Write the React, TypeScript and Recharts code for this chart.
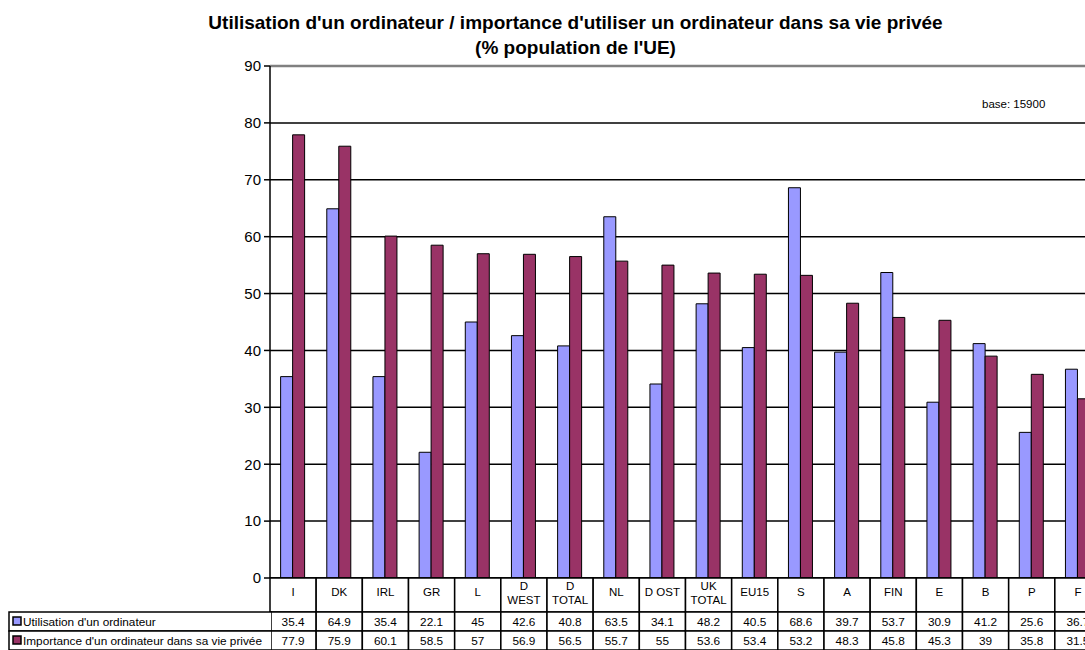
import { Bar, BarChart, CartesianGrid, ReferenceLine, XAxis, YAxis } from "recharts"

const categories = [
  "I", "DK", "IRL", "GR", "L", "D\nWEST", "D\nTOTAL", "NL", "D OST",
  "UK\nTOTAL", "EU15", "S", "A", "FIN", "E", "B", "P", "F",
]
const utilisation = [
  35.4, 64.9, 35.4, 22.1, 45, 42.6, 40.8, 63.5, 34.1,
  48.2, 40.5, 68.6, 39.7, 53.7, 30.9, 41.2, 25.6, 36.7,
]
const importance = [
  77.9, 75.9, 60.1, 58.5, 57, 56.9, 56.5, 55.7, 55,
  53.6, 53.4, 53.2, 48.3, 45.8, 45.3, 39, 35.8, 31.5,
]
const seriesNames = [
  "Utilisation d'un ordinateur",
  "Importance d'un ordinateur dans sa vie privée",
]
const yTicks = [0, 10, 20, 30, 40, 50, 60, 70, 80, 90]

const BLUE = "#9999ff"
const PLUM = "#993366"
const FONT = "'Liberation Sans', Arial, sans-serif"

const CHART_W = 1110
const CHART_H = 650
const M_LEFT = 210
const Y_W = 60
const M_RIGHT = 9
const X_H = 72
const PLOT_LEFT = M_LEFT + Y_W
const PLOT_W = CHART_W - PLOT_LEFT - M_RIGHT
const CELL = PLOT_W / categories.length
const HEAD_H = 34
const ROW_H = 19
const TABLE_FS = 11.8

const data = categories.map((c, i) => ({
  name: c,
  utilisation: utilisation[i],
  importance: importance[i],
}))

function TableTick(props: any) {
  const { x, y, index } = props
  const left = x - CELL / 2
  const lines = String(categories[index]).split("\n")
  const rows = [utilisation[index], importance[index]]
  return (
    <g>
      <rect
        x={left}
        y={y}
        width={CELL}
        height={HEAD_H}
        fill="#fff"
        stroke="#000"
        strokeWidth={1.5}
      />
      {lines.map((l, k) => (
        <text
          key={k}
          x={x}
          y={y + (lines.length === 1 ? 18 : 12 + k * 14)}
          textAnchor="middle"
          fontSize={11.5}
          fontFamily={FONT}
          fill="#000"
        >
          {l}
        </text>
      ))}
      {rows.map((v, r) => (
        <g key={r}>
          <rect
            x={left}
            y={y + HEAD_H + r * ROW_H}
            width={CELL}
            height={ROW_H}
            fill="#fff"
            stroke="#000"
            strokeWidth={1.5}
          />
          <text
            x={x}
            y={y + HEAD_H + r * ROW_H + 14}
            textAnchor="middle"
            fontSize={TABLE_FS}
            fontFamily={FONT}
            fill="#000"
          >
            {String(v)}
          </text>
        </g>
      ))}
    </g>
  )
}

export default function App() {
  const tableTop = CHART_H - X_H + HEAD_H
  return (
    <div
      style={{
        position: "absolute",
        left: 0,
        top: 0,
        width: 1085,
        height: 650,
        overflow: "hidden",
        background: "#fff",
        fontFamily: FONT,
      }}
    >
      <div
        style={{
          position: "absolute",
          left: 0,
          width: 1151,
          top: 10,
          textAlign: "center",
          fontWeight: "bold",
          fontSize: 19,
          lineHeight: "25px",
          color: "#000",
        }}
      >
        Utilisation d'un ordinateur / importance d'utiliser un ordinateur dans sa vie privée
        <br />
        (% population de l'UE)
      </div>

      <BarChart
        width={CHART_W}
        height={CHART_H}
        data={data}
        margin={{ top: 66, right: M_RIGHT, left: M_LEFT, bottom: 0 }}
        barCategoryGap="23%"
        barGap={0}
        style={{ position: "absolute", left: 0, top: 0 }}
      >
        <CartesianGrid vertical={false} stroke="#000" strokeWidth={1.5} />
        <ReferenceLine y={90} stroke="#808080" strokeWidth={2.5} />
        <XAxis
          dataKey="name"
          height={X_H}
          interval={0}
          tickLine={false}
          tickSize={0}
          tickMargin={0}
          axisLine={{ stroke: "#000", strokeWidth: 1.5 }}
          tick={<TableTick />}
        />
        <YAxis
          width={Y_W}
          domain={[0, 90]}
          ticks={yTicks}
          tickSize={6}
          tickMargin={3}
          axisLine={{ stroke: "#000", strokeWidth: 1.5 }}
          tickLine={{ stroke: "#000", strokeWidth: 1.5 }}
          tick={{ fill: "#000", fontSize: 15, fontFamily: FONT }}
        />
        <Bar
          dataKey="utilisation"
          fill={BLUE}
          stroke="#000"
          strokeWidth={1}
          isAnimationActive={false}
        />
        <Bar
          dataKey="importance"
          fill={PLUM}
          stroke="#000"
          strokeWidth={1}
          isAnimationActive={false}
        />
      </BarChart>

      <svg
        width={PLOT_LEFT + 2}
        height={CHART_H}
        style={{ position: "absolute", left: 0, top: 0, pointerEvents: "none" }}
      >
        {seriesNames.map((n, r) => (
          <g key={n}>
            <rect
              x={9}
              y={tableTop + r * ROW_H}
              width={PLOT_LEFT + 2 - 9}
              height={ROW_H}
              fill="#fff"
              stroke="#000"
              strokeWidth={1.5}
            />
            <rect
              x={13}
              y={tableTop + r * ROW_H + 5}
              width={8}
              height={8}
              fill={r === 0 ? BLUE : PLUM}
              stroke="#000"
              strokeWidth={1.5}
            />
            <text
              x={23}
              y={tableTop + r * ROW_H + 14}
              fontSize={TABLE_FS}
              fontFamily={FONT}
              fill="#000"
            >
              {n}
            </text>
          </g>
        ))}
      </svg>

      <div
        style={{
          position: "absolute",
          left: 982,
          top: 98,
          fontSize: 11.5,
          color: "#000",
        }}
      >
        base: 15900
      </div>
    </div>
  )
}
